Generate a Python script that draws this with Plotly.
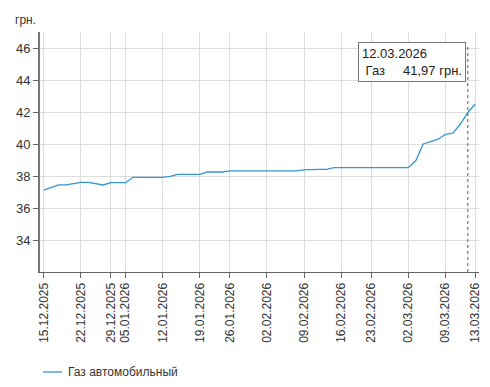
import plotly.graph_objects as go

dates = [
    "15.12.2025", "16.12.2025", "17.12.2025", "18.12.2025", "19.12.2025",
    "22.12.2025", "23.12.2025", "24.12.2025", "26.12.2025",
    "29.12.2025", "30.12.2025",
    "05.01.2026", "06.01.2026", "07.01.2026", "08.01.2026", "09.01.2026",
    "12.01.2026", "13.01.2026", "14.01.2026", "15.01.2026", "16.01.2026",
    "19.01.2026", "20.01.2026", "21.01.2026", "22.01.2026",
    "26.01.2026", "27.01.2026", "28.01.2026", "29.01.2026", "30.01.2026",
    "02.02.2026", "03.02.2026", "04.02.2026", "05.02.2026", "06.02.2026",
    "09.02.2026", "10.02.2026", "11.02.2026", "12.02.2026", "13.02.2026",
    "16.02.2026", "17.02.2026", "18.02.2026", "19.02.2026",
    "23.02.2026", "24.02.2026", "25.02.2026", "26.02.2026", "27.02.2026",
    "02.03.2026", "03.03.2026", "04.03.2026", "05.03.2026", "06.03.2026",
    "09.03.2026", "10.03.2026", "11.03.2026", "12.03.2026",
    "13.03.2026",
]

gas_prices = [
    37.12, 37.28, 37.44, 37.45, 37.52,
    37.60, 37.60, 37.50, 37.44,
    37.58, 37.58,
    37.58, 37.92, 37.92, 37.92, 37.92,
    37.92, 37.98, 38.10, 38.10, 38.10,
    38.10, 38.25, 38.25, 38.25,
    38.32, 38.32, 38.32, 38.32, 38.32,
    38.32, 38.32, 38.32, 38.32, 38.32,
    38.38, 38.42, 38.42, 38.42, 38.52,
    38.52, 38.52, 38.52, 38.52,
    38.52, 38.52, 38.52, 38.52, 38.52,
    38.52, 38.95, 40.00, 40.15, 40.30,
    40.60, 40.68, 41.25, 41.97,
    42.50,
]

tick_dates = [
    "15.12.2025", "22.12.2025", "29.12.2025", "05.01.2026", "12.01.2026",
    "19.01.2026", "26.01.2026", "02.02.2026", "09.02.2026", "16.02.2026",
    "23.02.2026", "02.03.2026", "09.03.2026", "13.03.2026",
]

y_ticks = [34, 36, 38, 40, 42, 44, 46]

series_name = "Газ автомобильный"
hover_date = "12.03.2026"
hover_text = "&nbsp;Газ&nbsp;&nbsp;&nbsp;&nbsp;&nbsp;41,97 грн."
unit = "грн."

LINE_COLOR = "#3497d0"
FONT = "Liberation Sans, Arial, sans-serif"

# plot area in page pixels: x 40..479, y 32..272 (page body has an 8px margin)
PX0, PX1, PY0, PY1 = 40, 479, 32, 272
PW, PH = PX1 - PX0, PY1 - PY0


def px(x):
    return (x - PX0) / PW


def py(y):
    return 1 - (y - PY0) / PH


fig = go.Figure()
fig.add_trace(go.Scatter(
    x=dates, y=gas_prices, mode="lines", name=series_name,
    line=dict(color=LINE_COLOR, width=1.3), showlegend=False,
))

# hover marker line (dotted)
fig.add_shape(type="line", xref="x", yref="y",
              x0=hover_date, x1=hover_date, y0=32, y1=46.2,
              line=dict(color="#555555", width=1, dash="dot"))

# legend (drawn manually)
fig.add_shape(type="line", xref="paper", yref="paper",
              x0=px(43), x1=px(62), y0=py(372), y1=py(372),
              line=dict(color=LINE_COLOR, width=1.3))
fig.add_annotation(xref="paper", yref="paper",
                   x=px(66), y=py(372),
                   xanchor="left", yanchor="middle", showarrow=False,
                   text=series_name, font=dict(size=12, color="#333333", family=FONT))

# unit label
fig.add_annotation(xref="paper", yref="paper",
                   x=px(13), y=py(20),
                   xanchor="left", yanchor="middle", showarrow=False,
                   text=unit, font=dict(size=12, color="#333333", family=FONT))

# tooltip box
fig.add_annotation(xref="paper", yref="paper",
                   x=px(358), y=py(42),
                   xanchor="left", yanchor="top", showarrow=False, align="left",
                   text=hover_date + "<br>" + hover_text,
                   font=dict(size=13, color="#222222", family=FONT),
                   bgcolor="white", bordercolor="#777777", borderwidth=1, borderpad=3)

fig.update_layout(
    width=482, height=379,
    margin=dict(l=PX0 - 8, r=490 - PX1, t=PY0 - 8, b=387 - PY1),
    paper_bgcolor="white", plot_bgcolor="white",
    font=dict(family=FONT, size=12, color="#333333"),
    showlegend=False,
    xaxis=dict(
        type="category", range=[-0.5, 58.5],
        tickmode="array", tickvals=tick_dates, ticktext=tick_dates,
        tickangle=-90, tickfont=dict(size=12, color="#333333"),
        showgrid=True, gridcolor="#dddddd", gridwidth=1,
        showline=True, linecolor="#666666", linewidth=1,
        ticks="outside", ticklen=5, tickcolor="#666666",
        zeroline=False, fixedrange=True, automargin=False,
    ),
    yaxis=dict(
        range=[32, 47], tickvals=y_ticks,
        tickfont=dict(size=13, color="#333333"),
        showgrid=True, gridcolor="#dddddd", gridwidth=1,
        showline=True, linecolor="#777777", linewidth=2,
        ticks="outside", ticklen=5, tickcolor="#666666",
        zeroline=False, fixedrange=True, automargin=False,
    ),
)

fig.write_html("out.html")
